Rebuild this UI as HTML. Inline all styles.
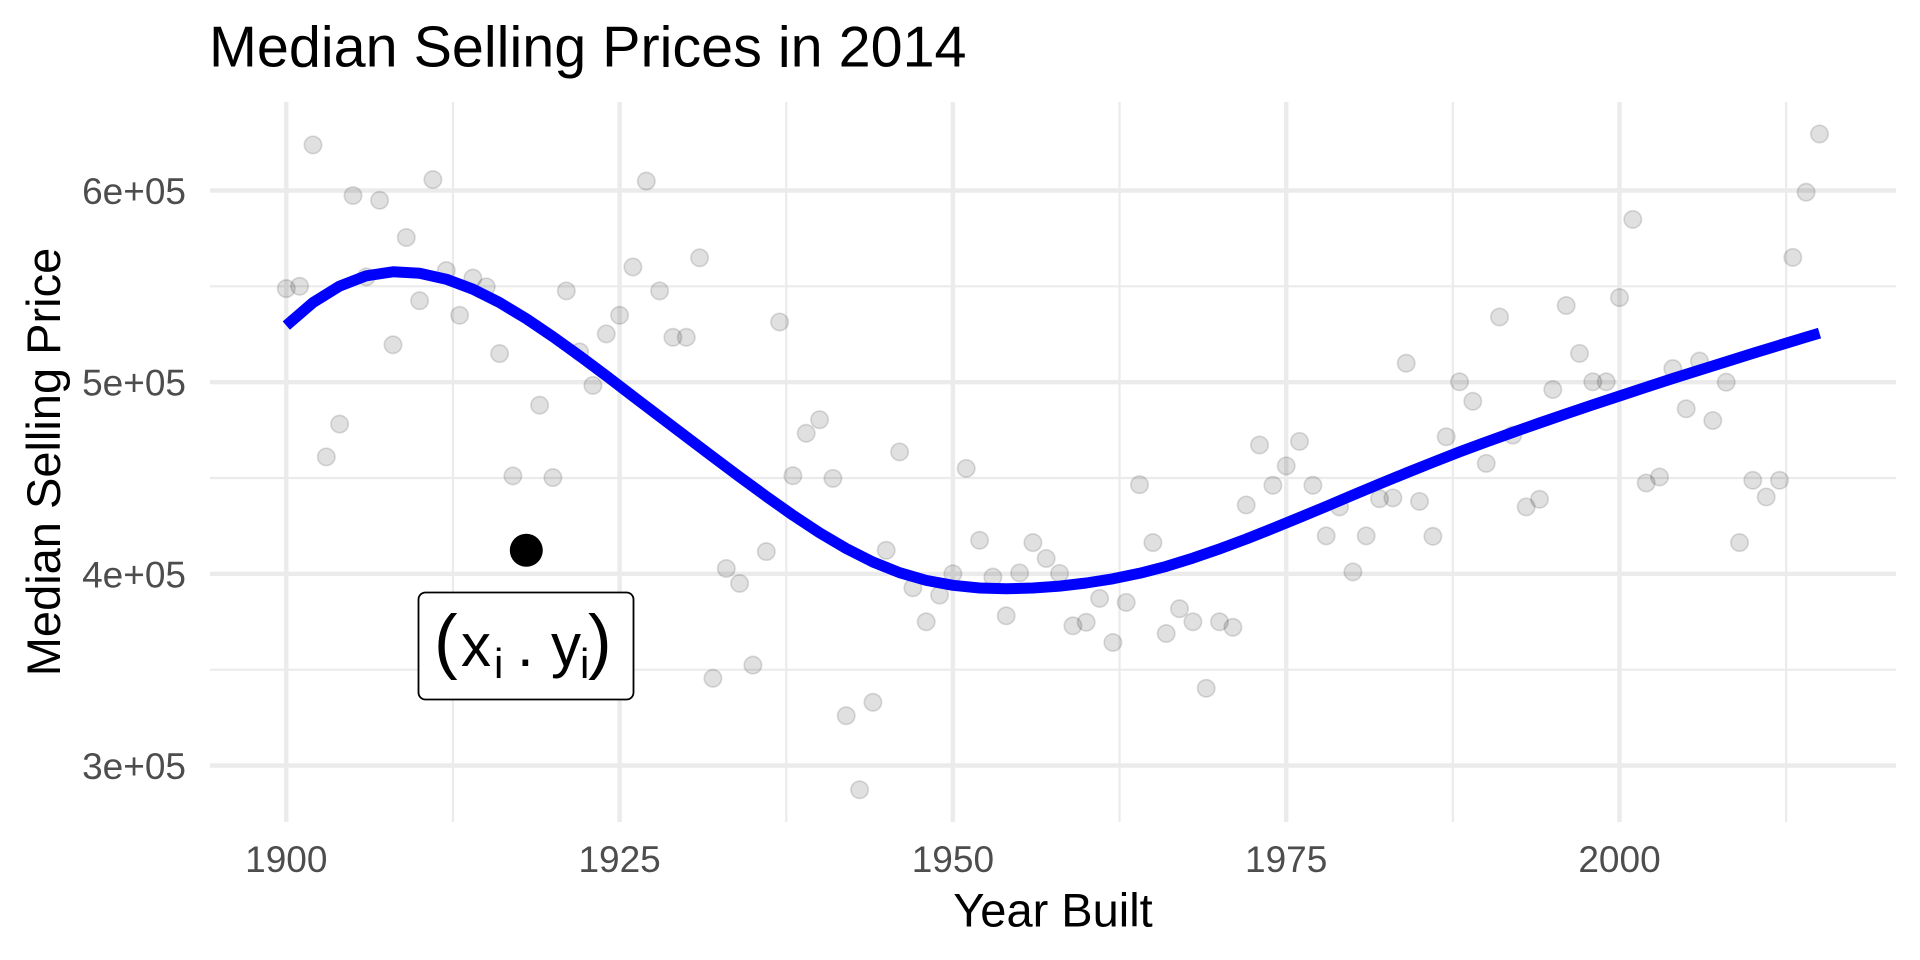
<!DOCTYPE html>
<html>
<head>
<meta charset="utf-8">
<style>
  html, body { margin: 0; padding: 0; background: #ffffff; }
  svg { display: block; }
  .grid-major { stroke: #EBEBEB; stroke-width: 4.4; }
  .grid-minor { stroke: #EBEBEB; stroke-width: 2.2; }
  .ytick { font-family: "Liberation Sans", Arial, sans-serif; font-size: 37px; fill: #4D4D4D; text-anchor: end; }
  .xtick { font-family: "Liberation Sans", Arial, sans-serif; font-size: 37px; fill: #4D4D4D; text-anchor: middle; }
  .pts circle { fill: rgba(0,0,0,0.12); stroke: rgba(0,0,0,0.13); stroke-width: 1.7; }
  .lab { font-family: "Liberation Sans", Arial, sans-serif; fill: #000; }
</style>
</head>
<body>
<svg width="1920" height="960" viewBox="0 0 1920 960" xmlns="http://www.w3.org/2000/svg">
  <rect x="0" y="0" width="1920" height="960" fill="#ffffff"/>

  <g class="grid-minor">
    <line x1="210" y1="286.3" x2="1896" y2="286.3"/>
    <line x1="210" y1="478.0" x2="1896" y2="478.0"/>
    <line x1="210" y1="669.7" x2="1896" y2="669.7"/>
    <line x1="452.95" y1="102" x2="452.95" y2="822"/>
    <line x1="786.25" y1="102" x2="786.25" y2="822"/>
    <line x1="1119.55" y1="102" x2="1119.55" y2="822"/>
    <line x1="1452.85" y1="102" x2="1452.85" y2="822"/>
    <line x1="1786.15" y1="102" x2="1786.15" y2="822"/>
  </g>
  <g class="grid-major">
    <line x1="210" y1="190.5" x2="1896" y2="190.5"/>
    <line x1="210" y1="382.2" x2="1896" y2="382.2"/>
    <line x1="210" y1="573.8" x2="1896" y2="573.8"/>
    <line x1="210" y1="765.5" x2="1896" y2="765.5"/>
    <line x1="286.3" y1="102" x2="286.3" y2="822"/>
    <line x1="619.6" y1="102" x2="619.6" y2="822"/>
    <line x1="952.9" y1="102" x2="952.9" y2="822"/>
    <line x1="1286.2" y1="102" x2="1286.2" y2="822"/>
    <line x1="1619.5" y1="102" x2="1619.5" y2="822"/>
  </g>

  <g class="pts">
    <circle cx="286.3" cy="288.6" r="8.7"/>
    <circle cx="299.6" cy="286.3" r="8.7"/>
    <circle cx="313.0" cy="144.9" r="8.7"/>
    <circle cx="326.3" cy="456.9" r="8.7"/>
    <circle cx="339.6" cy="424.1" r="8.7"/>
    <circle cx="353.0" cy="195.5" r="8.7"/>
    <circle cx="366.3" cy="276.9" r="8.7"/>
    <circle cx="379.6" cy="200.3" r="8.7"/>
    <circle cx="393.0" cy="344.8" r="8.7"/>
    <circle cx="406.3" cy="237.5" r="8.7"/>
    <circle cx="419.6" cy="300.7" r="8.7"/>
    <circle cx="432.9" cy="179.6" r="8.7"/>
    <circle cx="446.3" cy="270.6" r="8.7"/>
    <circle cx="459.6" cy="315.3" r="8.7"/>
    <circle cx="472.9" cy="278.1" r="8.7"/>
    <circle cx="486.3" cy="286.9" r="8.7"/>
    <circle cx="499.6" cy="353.6" r="8.7"/>
    <circle cx="512.9" cy="475.9" r="8.7"/>
    <circle cx="526.3" cy="550.3" r="8.7"/>
    <circle cx="539.6" cy="405.2" r="8.7"/>
    <circle cx="552.9" cy="477.6" r="8.7"/>
    <circle cx="566.3" cy="290.9" r="8.7"/>
    <circle cx="579.6" cy="351.9" r="8.7"/>
    <circle cx="592.9" cy="385.4" r="8.7"/>
    <circle cx="606.3" cy="333.9" r="8.7"/>
    <circle cx="619.6" cy="315.3" r="8.7"/>
    <circle cx="632.9" cy="267.0" r="8.7"/>
    <circle cx="646.3" cy="181.1" r="8.7"/>
    <circle cx="659.6" cy="290.9" r="8.7"/>
    <circle cx="672.9" cy="337.3" r="8.7"/>
    <circle cx="686.3" cy="337.3" r="8.7"/>
    <circle cx="699.6" cy="257.8" r="8.7"/>
    <circle cx="712.9" cy="678.3" r="8.7"/>
    <circle cx="726.3" cy="568.5" r="8.7"/>
    <circle cx="739.6" cy="583.4" r="8.7"/>
    <circle cx="752.9" cy="665.1" r="8.7"/>
    <circle cx="766.3" cy="551.6" r="8.7"/>
    <circle cx="779.6" cy="322.0" r="8.7"/>
    <circle cx="792.9" cy="475.7" r="8.7"/>
    <circle cx="806.2" cy="433.3" r="8.7"/>
    <circle cx="819.6" cy="419.7" r="8.7"/>
    <circle cx="832.9" cy="478.4" r="8.7"/>
    <circle cx="846.2" cy="715.7" r="8.7"/>
    <circle cx="859.6" cy="789.8" r="8.7"/>
    <circle cx="872.9" cy="702.3" r="8.7"/>
    <circle cx="886.2" cy="550.3" r="8.7"/>
    <circle cx="899.6" cy="451.9" r="8.7"/>
    <circle cx="912.9" cy="587.8" r="8.7"/>
    <circle cx="926.2" cy="621.8" r="8.7"/>
    <circle cx="939.6" cy="595.1" r="8.7"/>
    <circle cx="952.9" cy="573.8" r="8.7"/>
    <circle cx="966.2" cy="468.4" r="8.7"/>
    <circle cx="979.6" cy="540.3" r="8.7"/>
    <circle cx="992.9" cy="577.1" r="8.7"/>
    <circle cx="1006.2" cy="615.8" r="8.7"/>
    <circle cx="1019.6" cy="572.9" r="8.7"/>
    <circle cx="1032.9" cy="542.6" r="8.7"/>
    <circle cx="1046.2" cy="558.5" r="8.7"/>
    <circle cx="1059.6" cy="573.4" r="8.7"/>
    <circle cx="1072.9" cy="625.8" r="8.7"/>
    <circle cx="1086.2" cy="622.3" r="8.7"/>
    <circle cx="1099.6" cy="598.4" r="8.7"/>
    <circle cx="1112.9" cy="642.5" r="8.7"/>
    <circle cx="1126.2" cy="602.4" r="8.7"/>
    <circle cx="1139.5" cy="484.7" r="8.7"/>
    <circle cx="1152.9" cy="542.6" r="8.7"/>
    <circle cx="1166.2" cy="633.5" r="8.7"/>
    <circle cx="1179.5" cy="608.7" r="8.7"/>
    <circle cx="1192.9" cy="621.8" r="8.7"/>
    <circle cx="1206.2" cy="688.3" r="8.7"/>
    <circle cx="1219.5" cy="621.8" r="8.7"/>
    <circle cx="1232.9" cy="627.3" r="8.7"/>
    <circle cx="1246.2" cy="505.0" r="8.7"/>
    <circle cx="1259.5" cy="445.0" r="8.7"/>
    <circle cx="1272.9" cy="485.3" r="8.7"/>
    <circle cx="1286.2" cy="465.9" r="8.7"/>
    <circle cx="1299.5" cy="441.4" r="8.7"/>
    <circle cx="1312.9" cy="485.3" r="8.7"/>
    <circle cx="1326.2" cy="535.9" r="8.7"/>
    <circle cx="1339.5" cy="506.9" r="8.7"/>
    <circle cx="1352.9" cy="571.9" r="8.7"/>
    <circle cx="1366.2" cy="535.9" r="8.7"/>
    <circle cx="1379.5" cy="498.7" r="8.7"/>
    <circle cx="1392.9" cy="497.9" r="8.7"/>
    <circle cx="1406.2" cy="363.2" r="8.7"/>
    <circle cx="1419.5" cy="501.4" r="8.7"/>
    <circle cx="1432.9" cy="536.3" r="8.7"/>
    <circle cx="1446.2" cy="436.8" r="8.7"/>
    <circle cx="1459.5" cy="381.8" r="8.7"/>
    <circle cx="1472.8" cy="401.3" r="8.7"/>
    <circle cx="1486.2" cy="463.4" r="8.7"/>
    <circle cx="1499.5" cy="317.0" r="8.7"/>
    <circle cx="1512.8" cy="435.1" r="8.7"/>
    <circle cx="1526.2" cy="506.9" r="8.7"/>
    <circle cx="1539.5" cy="499.3" r="8.7"/>
    <circle cx="1552.8" cy="389.5" r="8.7"/>
    <circle cx="1566.2" cy="305.5" r="8.7"/>
    <circle cx="1579.5" cy="353.4" r="8.7"/>
    <circle cx="1592.8" cy="381.8" r="8.7"/>
    <circle cx="1606.2" cy="381.8" r="8.7"/>
    <circle cx="1619.5" cy="297.6" r="8.7"/>
    <circle cx="1632.8" cy="219.4" r="8.7"/>
    <circle cx="1646.2" cy="483.0" r="8.7"/>
    <circle cx="1659.5" cy="477.0" r="8.7"/>
    <circle cx="1672.8" cy="368.6" r="8.7"/>
    <circle cx="1686.2" cy="408.8" r="8.7"/>
    <circle cx="1699.5" cy="361.1" r="8.7"/>
    <circle cx="1712.8" cy="420.5" r="8.7"/>
    <circle cx="1726.2" cy="382.2" r="8.7"/>
    <circle cx="1739.5" cy="542.6" r="8.7"/>
    <circle cx="1752.8" cy="480.3" r="8.7"/>
    <circle cx="1766.2" cy="497.0" r="8.7"/>
    <circle cx="1779.5" cy="480.3" r="8.7"/>
    <circle cx="1792.8" cy="257.4" r="8.7"/>
    <circle cx="1806.1" cy="192.2" r="8.7"/>
    <circle cx="1819.5" cy="134.0" r="8.7"/>
  </g>

  <polyline fill="none" stroke="#0000FF" stroke-width="11" stroke-linejoin="round" stroke-linecap="butt"
    points="286.3,325.6 313.0,302.6 339.6,286.1 366.3,275.8 393.0,271.8 419.6,273.3 446.3,279.2 472.9,289.2 499.6,302.6 526.3,318.7 552.9,336.7 579.6,355.9 606.3,375.8 632.9,396.2 659.6,416.5 686.3,436.8 712.9,456.9 739.6,476.9 766.3,496.4 792.9,515.2 819.6,532.8 846.2,548.5 872.9,562.0 899.6,572.7 926.2,580.4 952.9,585.3 979.6,588.0 1006.2,588.8 1032.9,588.0 1059.6,586.1 1086.2,583.0 1112.9,578.8 1139.5,573.3 1166.2,566.4 1192.9,558.1 1219.5,548.9 1246.2,539.0 1272.9,528.4 1299.5,517.5 1326.2,506.4 1352.9,495.1 1379.5,483.9 1406.2,473.0 1432.9,462.3 1459.5,451.9 1486.2,442.0 1512.8,432.4 1539.5,423.0 1566.2,413.8 1592.8,404.8 1619.5,396.0 1646.2,387.2 1672.8,378.5 1699.5,370.1 1726.2,361.7 1752.8,353.4 1779.5,345.2 1806.1,337.1 1819.5,333.1"/>

  <circle cx="526.3" cy="550.3" r="16.5" fill="#000000"/>

  <rect x="418.5" y="592.5" width="215" height="107" rx="7" ry="7" fill="#ffffff" stroke="#000000" stroke-width="1.8"/>
  <text class="lab" x="434" y="665" font-size="71">(</text>
  <text class="lab" x="461" y="666" font-size="60">x</text>
  <text class="lab" x="494" y="678" font-size="42">i</text>
  <text class="lab" x="517" y="666" font-size="60">.</text>
  <text class="lab" x="551" y="666" font-size="60">y</text>
  <text class="lab" x="580" y="678" font-size="42">i</text>
  <text class="lab" x="588" y="665" font-size="71">)</text>

  <text class="ytick" x="186" y="204">6e+05</text>
  <text class="ytick" x="186" y="395.7">5e+05</text>
  <text class="ytick" x="186" y="587.3">4e+05</text>
  <text class="ytick" x="186" y="779">3e+05</text>

  <text class="xtick" x="286.3" y="872">1900</text>
  <text class="xtick" x="619.6" y="872">1925</text>
  <text class="xtick" x="952.9" y="872">1950</text>
  <text class="xtick" x="1286.2" y="872">1975</text>
  <text class="xtick" x="1619.5" y="872">2000</text>

  <text x="209" y="66.7" font-family="Liberation Sans, Arial, sans-serif" font-size="57.5" fill="#000">Median Selling Prices in 2014</text>
  <text x="1053" y="926.5" font-family="Liberation Sans, Arial, sans-serif" font-size="47" fill="#000" text-anchor="middle">Year Built</text>
  <text transform="translate(60,462) rotate(-90)" x="0" y="0" font-family="Liberation Sans, Arial, sans-serif" font-size="47" fill="#000" text-anchor="middle">Median Selling Price</text>
</svg>
</body>
</html>
